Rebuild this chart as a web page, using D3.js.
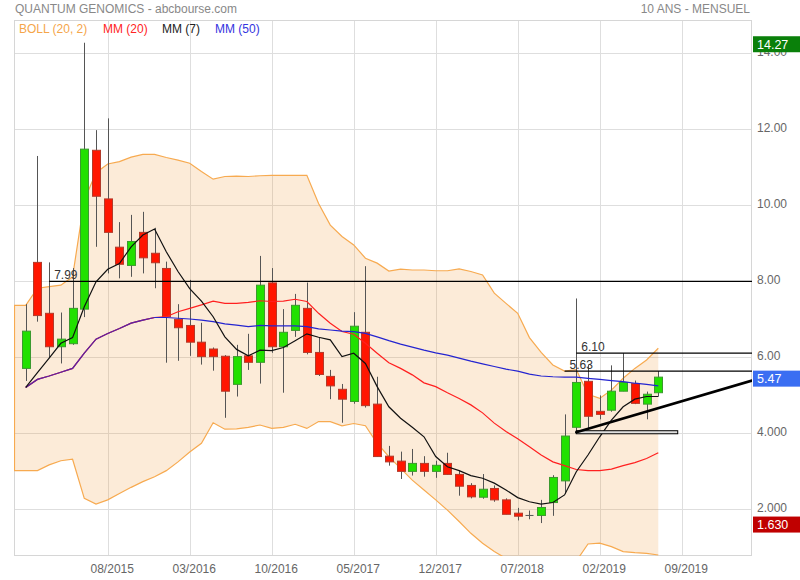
<!DOCTYPE html>
<html><head><meta charset="utf-8">
<script src="https://cdn.jsdelivr.net/npm/d3@7"></script>
<style>
body{margin:0;background:#fff}
svg{display:block}
text{font-family:"Liberation Sans",Arial,sans-serif}
</style>
</head><body>
<svg id="c" width="800" height="580"></svg>
<script>
// ---- data (monthly candles, 01/2015 .. 07/2019, index 0..54) ----
const opens  = [5.70,8.49,7.15,6.27,6.35,7.26,11.44,10.16,8.89,8.41,9.28,8.73,8.33,6.99,6.83,6.39,6.21,6.02,5.28,6.03,5.86,7.95,6.27,6.70,7.28,6.12,5.49,5.15,4.83,6.65,4.76,3.39,3.26,2.99,3.20,2.99,3.20,2.91,2.62,2.31,2.54,2.24,1.89,1.83,1.83,2.17,2.74,4.15,5.36,4.57,4.60,5.10,5.30,4.76,5.06];
const highs  = [7.39,11.29,8.49,7.17,8.34,14.27,11.97,12.28,9.55,9.74,9.82,9.40,8.51,7.39,8.03,6.90,6.25,6.05,6.32,6.61,8.66,8.34,7.26,7.66,7.96,6.51,5.66,5.29,7.18,8.39,5.48,3.66,3.51,3.58,3.39,3.27,3.48,3.01,2.68,2.92,2.62,2.28,2.03,1.96,2.24,2.89,4.49,7.54,5.80,4.99,5.78,6.10,5.38,5.09,5.63];
const lows   = [5.37,6.93,5.97,5.83,6.32,7.05,8.90,8.20,8.07,8.11,8.20,7.81,5.85,5.90,6.03,5.80,5.64,4.40,4.96,5.66,5.30,6.11,5.06,6.53,6.07,5.50,4.89,4.27,4.77,4.67,3.37,3.14,2.79,2.88,2.85,2.82,2.90,2.35,2.28,2.27,2.19,1.86,1.70,1.73,1.63,1.82,2.41,4.03,4.12,4.36,4.56,5.10,4.76,4.36,4.96];
const closes = [6.68,7.09,6.27,6.47,7.28,11.47,10.23,9.28,8.44,9.04,8.61,8.48,7.06,6.77,6.39,6.01,6.01,5.10,6.01,5.86,7.89,6.27,6.65,7.36,6.12,5.54,5.24,4.89,6.81,4.72,3.38,3.24,2.99,3.20,2.99,3.15,2.91,2.60,2.32,2.52,2.24,1.86,1.81,1.83,2.04,2.83,3.92,5.33,4.44,4.49,5.10,5.33,4.78,5.02,5.47];

const mm7  = [5.20,5.59,5.97,6.36,6.51,7.32,7.98,8.31,8.46,8.90,9.21,9.37,8.77,8.25,7.80,7.47,7.06,6.53,6.20,6.03,6.18,6.17,6.25,6.43,6.61,6.52,6.45,6.01,6.10,5.83,5.22,4.69,4.39,4.15,3.90,3.38,3.11,3.01,2.88,2.81,2.68,2.50,2.30,2.19,2.13,2.17,2.37,2.98,3.42,3.90,4.34,4.69,4.89,4.96,4.96];
const mm20 = [5.20,5.41,5.50,5.60,5.70,6.10,6.47,6.62,6.75,6.89,6.97,7.04,7.06,7.19,7.28,7.37,7.47,7.41,7.41,7.44,7.48,7.46,7.47,7.52,7.46,7.15,6.89,6.67,6.60,6.36,6.10,5.85,5.70,5.53,5.32,5.22,5.06,4.91,4.74,4.53,4.26,4.04,3.85,3.64,3.42,3.24,3.14,3.04,3.01,3.01,3.05,3.14,3.22,3.33,3.48];
const mm50 = [5.20,5.41,5.50,5.60,5.70,6.10,6.47,6.62,6.75,6.89,6.97,7.04,7.04,7.02,7.00,6.97,6.93,6.87,6.84,6.80,6.83,6.82,6.82,6.82,6.80,6.74,6.71,6.68,6.67,6.62,6.53,6.43,6.34,6.26,6.18,6.11,6.05,5.97,5.89,5.82,5.75,5.68,5.63,5.55,5.50,5.48,5.47,5.47,5.44,5.41,5.38,5.35,5.31,5.28,5.24];
const bollUp  = [7.36,7.81,7.85,7.89,8.11,10.13,10.85,11.08,11.14,11.26,11.33,11.33,11.25,11.18,11.10,10.88,10.68,10.75,10.76,10.75,10.77,10.78,10.78,10.78,10.78,10.04,9.47,9.17,8.95,8.60,8.47,8.26,8.31,8.29,8.29,8.27,8.27,8.32,8.25,8.16,7.68,7.41,7.15,6.51,6.12,5.79,5.63,5.67,5.02,4.91,5.13,5.44,5.70,5.92,6.23];
const bollLow = [3.01,3.01,3.16,3.27,3.31,2.28,2.13,2.24,2.41,2.57,2.72,2.85,3.01,3.24,3.50,3.73,4.27,4.10,4.11,4.15,4.21,4.12,4.15,4.23,4.12,4.30,4.30,4.19,4.25,4.19,3.73,3.38,3.07,2.76,2.50,2.24,1.97,1.67,1.36,1.10,0.88,0.70,0.60,0.62,0.65,0.62,0.60,0.63,1.08,1.10,1.01,0.88,0.85,0.83,0.79];

const xTickIndex  = [7,14,21,28,35,42,49,56];
const xTickLabels = ["08/2015","03/2016","10/2016","05/2017","12/2017","07/2018","02/2019","09/2019"];
const yTickValues = [14,12,10,8,6,4,2];
const yTickLabels = ["14.00","12.00","10.00","8.00","6.00","4.000","2.000"];

const levels = [ {value:7.99, start:2, label:"7.99"}, {value:6.10, start:47, label:"6.10"}, {value:5.63, start:46, label:"5.63"} ];
const trend = {i0:47, v0:4.02, i1:62, v1:5.38};
const zone  = {i0:47, i1:55.66, vTop:4.06, vBottom:3.98};
const priceTags = [ {value:14.27, text:"14.27", color:"#0a800a"}, {value:5.47, text:"5.47", color:"#3b6ef2"}, {value:1.63, text:"1.630", color:"#c00000"} ];
const legend = [ {text:"BOLL (20, 2)", color:"#f5a64a"}, {text:"MM (20)", color:"#ff2424"}, {text:"MM (7)", color:"#222"}, {text:"MM (50)", color:"#3434e0"} ];

// ---- layout ----
const L=14, R=752, T=20, B=556;
const svg = d3.select("#c");
const x = d3.scaleLinear().domain([-1,62]).range([L,R]);
const y = d3.scaleLinear().domain([2,14]).range([509,53]);
const idx = d3.range(closes.length);

svg.append("defs").append("clipPath").attr("id","plot")
  .append("rect").attr("x",L).attr("y",T).attr("width",R-L).attr("height",B-T);

// titles
svg.append("text").attr("x",15).attr("y",13).attr("font-size",12).attr("fill","#888").text("QUANTUM GENOMICS - abcbourse.com");
svg.append("text").attr("x",750).attr("y",13).attr("text-anchor","end").attr("font-size",12).attr("fill","#888").text("10 ANS - MENSUEL");

// grid
const grid = svg.append("g").attr("stroke","#dedede").attr("stroke-width",1).attr("shape-rendering","crispEdges");
grid.selectAll(".h").data(yTickValues).join("line").attr("x1",L).attr("x2",R).attr("y1",d=>Math.round(y(d))+0.5).attr("y2",d=>Math.round(y(d))+0.5);
grid.selectAll(".v").data(xTickIndex).join("line").attr("y1",T).attr("y2",B).attr("x1",d=>Math.round(x(d))+0.5).attr("x2",d=>Math.round(x(d))+0.5);
svg.append("rect").attr("x",L+0.5).attr("y",T+0.5).attr("width",R-L-1).attr("height",B-T-1).attr("fill","none").attr("stroke","#d6d6d6").attr("shape-rendering","crispEdges");

const plot = svg.append("g").attr("clip-path","url(#plot)");

// Bollinger band (extends to the left edge with first value)
const bandIdx = [-1].concat(idx);
const bv = (arr,i)=> arr[Math.max(i,0)];
plot.append("path").datum(bandIdx)
  .attr("d", d3.area().x(i=>x(i)).y0(i=>y(bv(bollLow,i))).y1(i=>y(bv(bollUp,i))))
  .attr("fill","rgb(240,155,60)").attr("fill-opacity",0.2);
plot.append("path").datum(bandIdx).attr("d", d3.line().x(i=>x(i)).y(i=>y(bv(bollUp,i)))).attr("fill","none").attr("stroke","#f7aa50").attr("stroke-width",1.2);
plot.append("path").datum(bandIdx).attr("d", d3.line().x(i=>x(i)).y(i=>y(bv(bollLow,i)))).attr("fill","none").attr("stroke","#f7aa50").attr("stroke-width",1.2);
plot.append("line").attr("x1",x(-1)+0.5).attr("x2",x(-1)+0.5).attr("y1",y(bollLow[0])).attr("y2",y(bollUp[0])).attr("stroke","#f7aa50").attr("stroke-width",1.2);

// candles
const cg = plot.append("g");
const cw = 8;
idx.forEach(i=>{
  const o=opens[i], c=closes[i], h=highs[i], l=lows[i];
  const cx = Math.round(x(i))+0.5;
  cg.append("line").attr("x1",cx).attr("x2",cx).attr("y1",y(h)).attr("y2",y(l)).attr("stroke","#555").attr("stroke-width",1);
  if (o===c) {
    cg.append("line").attr("x1",cx-cw/2).attr("x2",cx+cw/2).attr("y1",y(o)).attr("y2",y(o)).attr("stroke","#555").attr("stroke-width",1);
  } else {
    const up = c>o;
    cg.append("rect").attr("x",cx-cw/2).attr("width",cw)
      .attr("y",y(Math.max(o,c))).attr("height",Math.max(1,y(Math.min(o,c))-y(Math.max(o,c))))
      .attr("fill", up?"#22e000":"#ff1600").attr("stroke", up?"#3b9a2e":"#b33a2a").attr("stroke-width",1);
  }
});

// moving averages
const maLine = (arr, ids) => d3.line().x(i=>x(i)).y(i=>y(arr[i]))(ids || idx);
plot.append("path").attr("d",maLine(mm20)).attr("fill","none").attr("stroke","#ff2020").attr("stroke-width",1.2);
plot.append("path").attr("d",maLine(mm50)).attr("fill","none").attr("stroke","#2424d0").attr("stroke-width",1.2);
// where MM(20) and MM(50) coincide the two lines blend
const shared = idx.filter(i => mm20[i] === mm50[i]);
plot.append("path").attr("d",maLine(mm20, shared)).attr("fill","none").attr("stroke","#ff2020").attr("stroke-width",1.2).attr("stroke-opacity",0.25);
plot.append("path").attr("d",maLine(mm7)).attr("fill","none").attr("stroke","#111").attr("stroke-width",1.2);

// level lines
levels.forEach(lv=>{
  plot.append("line").attr("x1",x(lv.start)).attr("x2",R).attr("y1",y(lv.value)).attr("y2",y(lv.value)).attr("stroke","#000").attr("stroke-width",1.3);
  svg.append("text").attr("x",x(lv.start)+5).attr("y",y(lv.value)-2).attr("font-size",12).attr("fill","#333").text(lv.label);
});

// zone rectangle & trend line
plot.append("rect").attr("x",x(zone.i0)).attr("width",x(zone.i1)-x(zone.i0))
  .attr("y",y(zone.vTop)).attr("height",y(zone.vBottom)-y(zone.vTop))
  .attr("fill","#e0e0e0").attr("stroke","#000").attr("stroke-width",1);
plot.append("line").attr("x1",x(trend.i0)).attr("y1",y(trend.v0)).attr("x2",x(trend.i1)).attr("y2",y(trend.v1))
  .attr("stroke","#000").attr("stroke-width",2.6).attr("stroke-linecap","round");

// legend
const lgX = [19,103,162,215];
legend.forEach((d,k)=>{
  svg.append("text").attr("x",lgX[k]).attr("y",33).attr("font-size",12).attr("fill",d.color).text(d.text);
});

// axes
const ya = svg.append("g").attr("transform",`translate(${R},0)`)
  .call(d3.axisRight(y).tickValues(yTickValues).tickFormat((d,i)=>yTickLabels[i]).tickSize(0).tickPadding(5));
ya.select(".domain").remove();
ya.selectAll("text").attr("dy","0.17em").attr("font-size",12).attr("fill","#666").attr("font-family",null);

const xa = svg.append("g").attr("transform",`translate(0,${B})`)
  .call(d3.axisBottom(x).tickValues(xTickIndex).tickFormat((d,i)=>xTickLabels[i]).tickSize(0).tickPadding(8.5));
xa.select(".domain").remove();
xa.selectAll("text").attr("dx",4).attr("font-size",12).attr("fill","#666").attr("font-family",null);

// price tags (drawn over the axis labels, as in the original)
priceTags.forEach(p=>{
  const cy = y(p.value)+1.5;
  svg.append("rect").attr("x",753).attr("y",cy-8).attr("width",47).attr("height",16).attr("fill",p.color);
  svg.append("text").attr("x",757).attr("y",cy+4.5).attr("font-size",12.5).attr("fill","#fff").text(p.text);
});
</script>
</body></html>
